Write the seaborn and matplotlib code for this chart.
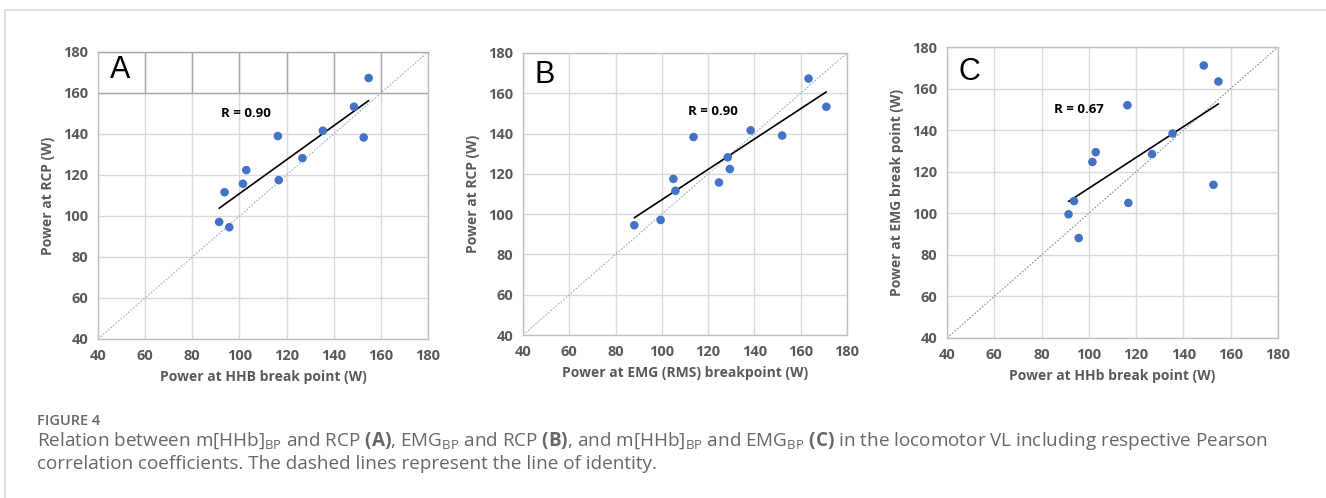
import seaborn as sns
import matplotlib.pyplot as plt
import pandas as pd
from matplotlib.lines import Line2D

# breakpoints per subject (W)
hhb = [154.8, 148.6, 135.4, 152.7, 116.3, 126.7, 102.9, 101.5, 116.7, 93.7, 91.4, 95.7]
rcp = [167.3, 153.3, 141.6, 138.3, 139.0, 128.2, 122.4, 115.7, 117.5, 111.6, 97.1, 94.5]
emg = [163.4, 171.1, 138.4, 113.7, 152.0, 128.5, 129.4, 124.7, 105.0, 105.9, 99.5, 88.1]

panel_letters = ["A", "B", "C"]
r_labels = ["R = 0.90", "R = 0.90", "R = 0.67"]
xlabels = ["Power at HHB break point (W)", "Power at EMG (RMS) breakpoint (W)", "Power at HHb break point (W)"]
ylabels = ["Power at RCP (W)", "Power at RCP (W)", "Power at EMG break point (W)"]
ticks = [40, 60, 80, 100, 120, 140, 160, 180]

df = pd.DataFrame({"hhb": hhb, "rcp": rcp, "emg": emg})

sns.set_theme(style="white")
plt.rcParams["font.family"] = ["Open Sans", "DejaVu Sans"]
plt.rcParams["mathtext.fontset"] = "custom"
plt.rcParams["mathtext.rm"] = "Open Sans"
plt.rcParams["mathtext.bf"] = "Open Sans:bold"

fig = plt.figure(figsize=(13.26, 4.98), dpi=100)

positions = [
    [0.0739, 0.3193, 0.2489, 0.5763],
    [0.3944, 0.3273, 0.2443, 0.5663],
    [0.7142, 0.3213, 0.2496, 0.5843],
]
pairs = [("hhb", "rcp"), ("emg", "rcp"), ("hhb", "emg")]
ident_colors = ["#8faadc", "#8faadc", "#8c8c8c"]
letter_pos = [(45, 171), (45, 169), (45, 168)]
r_pos = [(102.8, 150), (122, 151), (95.8, 150)]

for i in range(3):
    ax = fig.add_axes(positions[i])
    xcol, ycol = pairs[i]
    ax.set_xlim(40, 180)
    ax.set_ylim(40, 180)
    ax.set_xticks(ticks)
    ax.set_yticks(ticks)
    ax.grid(True, color="#d9d9d9", linewidth=1)
    ax.set_axisbelow(True)
    for s in ax.spines.values():
        s.set_color("#bfbfbf")
        s.set_linewidth(1)

    # line of identity
    ax.plot([40, 180], [40, 180], linestyle=(0, (1.5, 1.5)), color=ident_colors[i], linewidth=0.8, zorder=1)

    sns.regplot(data=df, x=xcol, y=ycol, scatter=False, ci=None, ax=ax,
                line_kws={"color": "black", "linewidth": 1.2, "zorder": 2})
    sns.scatterplot(data=df, x=xcol, y=ycol, ax=ax, color="#4472c4", s=38,
                    edgecolor="none", zorder=3)

    if i == 0:
        # darker grid in top band of panel A (as in original)
        ax.vlines(ticks[1:-1], 160, 180, color="#a6a6a6", linewidth=1, zorder=1)
        ax.hlines(160, 40, 180, color="#a6a6a6", linewidth=1, zorder=1)
        ax.spines["top"].set_color("#a6a6a6")

    ax.text(letter_pos[i][0], letter_pos[i][1], panel_letters[i], fontsize=22,
            family=["Liberation Sans", "DejaVu Sans"], color="black", va="center", ha="left")
    ax.text(r_pos[i][0], r_pos[i][1], r_labels[i], fontsize=9.5, fontweight="bold",
            color="black", ha="center", va="center", zorder=4)

    ax.tick_params(length=0, labelsize=10.5, labelcolor="#595959", pad=7)
    for lab in ax.get_xticklabels() + ax.get_yticklabels():
        lab.set_fontweight("bold")
    ax.set_xlabel(xlabels[i], fontsize=10, fontweight="bold", color="#595959", labelpad=5)
    ax.set_ylabel(ylabels[i], fontsize=10, fontweight="bold", color="#595959", labelpad=6)

# page frame lines
fig.add_artist(Line2D([5 / 1326, 1], [1 - 10 / 498, 1 - 10 / 498], color="#d9d9d9", linewidth=1.2))
fig.add_artist(Line2D([5 / 1326, 5 / 1326], [0, 1 - 10 / 498], color="#d9d9d9", linewidth=1.2))

cap_color = "#666666"
fig.text(37 / 1326, 1 - 421 / 498, "FIGURE 4", fontsize=10.5, fontweight="semibold", color=cap_color, va="center")
line1 = (r"Relation between m[HHb]$_{\mathrm{BP}}$ and RCP $\mathbf{(A)}$, EMG$_{\mathrm{BP}}$ and RCP $\mathbf{(B)}$, "
         r"and m[HHb]$_{\mathrm{BP}}$ and EMG$_{\mathrm{BP}}$ $\mathbf{(C)}$ in the locomotor VL including respective Pearson")
line2 = "correlation coefficients. The dashed lines represent the line of identity."
fig.text(37 / 1326, 1 - 441 / 498, line1, fontsize=13.6, color=cap_color, va="center")
fig.text(37 / 1326, 1 - 464 / 498, line2, fontsize=13.6, color=cap_color, va="center")

fig.savefig("out.png", dpi=100)
